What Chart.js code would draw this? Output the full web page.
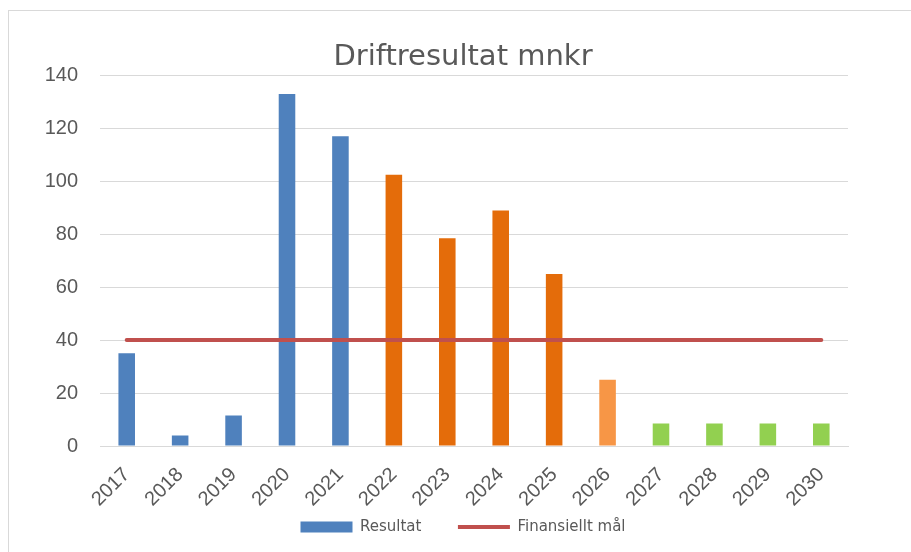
<!DOCTYPE html>
<html>
<head>
<meta charset="utf-8">
<script src="https://cdn.jsdelivr.net/npm/chart.js@4/dist/chart.umd.min.js"></script>
<style>
  html, body { margin: 0; padding: 0; background: #ffffff; overflow: hidden; }
  #frame { position: absolute; left: 8px; top: 10px; width: 1000px; height: 1000px; border: 1px solid #d9d9d9; box-sizing: border-box; }
  #wrap { position: absolute; left: 0; top: 0; width: 911px; height: 552px; }
</style>
</head>
<body>
<div id="frame"></div>
<div id="wrap"><canvas id="c" width="911" height="552"></canvas></div>
<script>
const categories = ['2017','2018','2019','2020','2021','2022','2023','2024','2025','2026','2027','2028','2029','2030'];
const resultat = [35, 4, 11.5, 133, 117, 102.5, 78.5, 89, 65, 25, 8.5, 8.5, 8.5, 8.5];
const finansielltMal = [40, 40, 40, 40, 40, 40, 40, 40, 40, 40, 40, 40, 40, 40];
const yTicks = [0, 20, 40, 60, 80, 100, 120, 140];
const barColors = ['#4F81BD','#4F81BD','#4F81BD','#4F81BD','#4F81BD','#E46C0A','#E46C0A','#E46C0A','#E46C0A','#F79646','#92D050','#92D050','#92D050','#92D050'];

const textColor = '#595959';
const LEGEND_PAD = 36.5;
const LEGEND_CENTER_Y = 527;
const LEGEND_FONT = 15;

// Place the legend row at its reference height after the layout pass.
const legendPlacer = {
  id: 'legendPlacer',
  afterLayout(chart) {
    const lg = chart.legend;
    if (!lg) return;
    lg.top = LEGEND_CENTER_Y - LEGEND_PAD - LEGEND_FONT / 2;
    lg.bottom = chart.height;
    lg.height = lg.bottom - lg.top;
  }
};

const ctx = document.getElementById('c').getContext('2d');
new Chart(ctx, {
  type: 'bar',
  data: {
    labels: categories,
    datasets: [
      {
        type: 'bar',
        label: 'Resultat',
        data: resultat,
        backgroundColor: barColors,
        borderWidth: 0,
        barPercentage: 0.31,
        categoryPercentage: 1.0,
        pointStyle: 'rect',
        order: 1
      },
      {
        type: 'line',
        label: 'Finansiellt mål',
        data: finansielltMal,
        borderColor: '#C0504D',
        backgroundColor: '#C0504D',
        borderWidth: 4,
        borderCapStyle: 'round',
        pointRadius: 0,
        pointHoverRadius: 0,
        pointStyle: 'line',
        fill: false,
        order: 0
      }
    ]
  },
  plugins: [legendPlacer],
  options: {
    responsive: false,
    animation: false,
    devicePixelRatio: 1,
    layout: { padding: { left: 15, right: 0, top: 10, bottom: 0 } },
    plugins: {
      tooltip: { enabled: false },
      title: {
        display: true,
        text: 'Driftresultat mnkr',
        color: textColor,
        font: { family: 'DejaVu Sans', size: 29, weight: 'normal' },
        padding: { top: 30, bottom: 0.6 }
      },
      legend: {
        display: true,
        position: 'bottom',
        maxHeight: 1,
        labels: {
          color: textColor,
          font: { family: 'DejaVu Sans', size: LEGEND_FONT },
          usePointStyle: true,
          pointStyleWidth: 52,
          boxHeight: 11,
          padding: LEGEND_PAD,
          sort: (a, b) => a.datasetIndex - b.datasetIndex
        }
      }
    },
    scales: {
      x: {
        grid: { display: false, drawTicks: false },
        border: { display: true, color: '#d9d9d9', width: 1 },
        ticks: {
          color: textColor,
          font: { family: 'Liberation Sans', size: 20 },
          minRotation: 45,
          maxRotation: 45,
          padding: 17,
          autoSkip: false
        },
        afterFit: (s) => { s.height = 105; }
      },
      y: {
        min: 0,
        max: 140,
        afterBuildTicks: (s) => { s.ticks = yTicks.map(v => ({ value: v })); },
        grid: { color: '#d9d9d9', lineWidth: 1, drawTicks: false },
        border: { display: false },
        ticks: {
          color: textColor,
          font: { family: 'Liberation Sans', size: 20 },
          padding: 22
        },
        afterFit: (s) => { s.width = 85; }
      },
      yR: {
        position: 'right',
        display: true,
        grid: { display: false, drawTicks: false },
        border: { display: false },
        ticks: { display: false },
        afterFit: (s) => { s.width = 63; }
      }
    }
  }
});
</script>
</body>
</html>
